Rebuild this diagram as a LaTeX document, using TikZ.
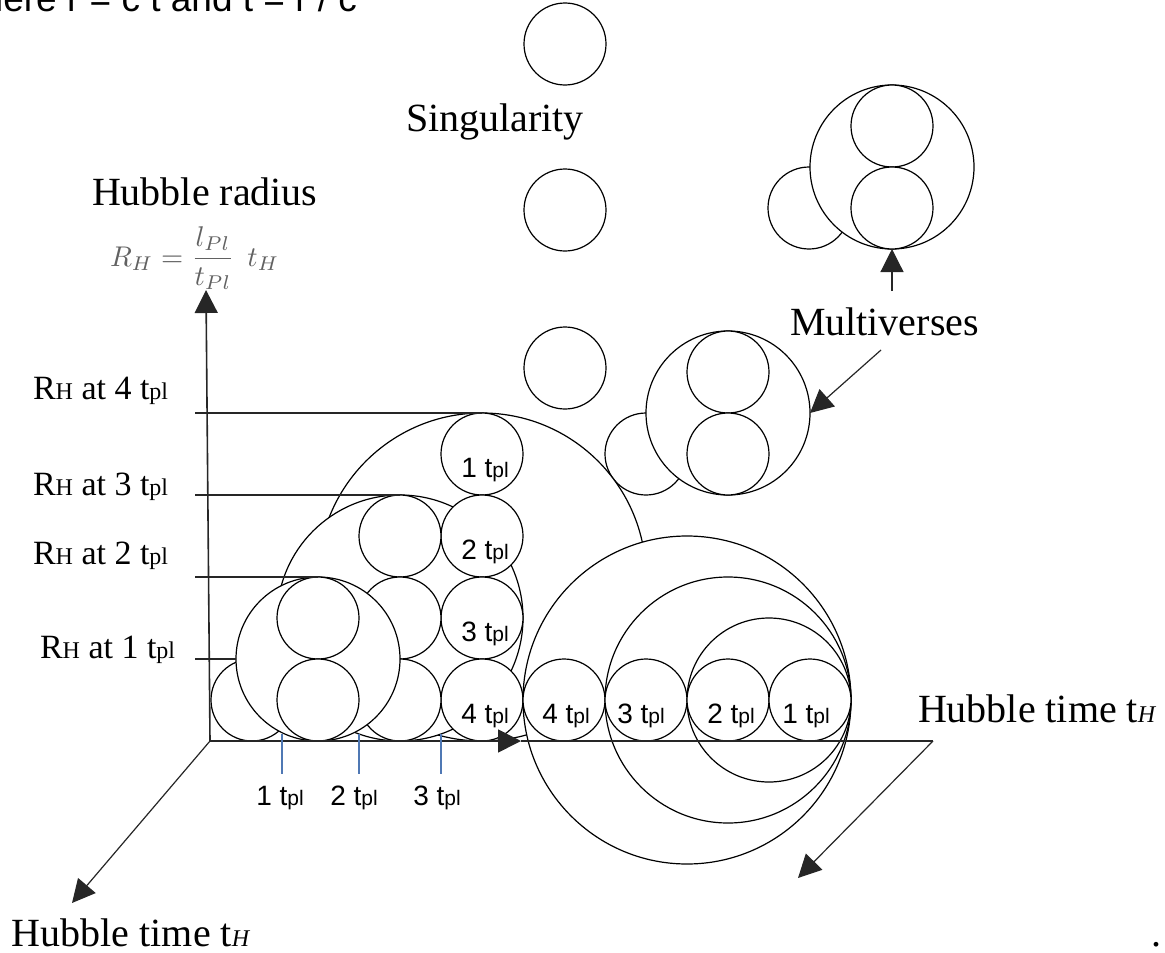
\documentclass[tikz,border=0pt]{standalone}
\usepackage[no-math]{fontspec}
\setmainfont{Liberation Serif}
\newfontfamily\sansf{Liberation Sans}
\usetikzlibrary{arrows.meta}
\definecolor{tickblue}{HTML}{4F78B4}
\newcommand\fs[1]{\fontsize{#1}{#1}\selectfont}
\newcommand\tpS{t{\fs{21}pl}}
\newcommand\tpR{t{\fs{24}pl}}
\newcommand\tH{t{\fs{24}\itshape H}}
\begin{document}
\begin{tikzpicture}[x=1pt,y=-1pt,
  every node/.style={inner sep=0pt,outer sep=0pt},
  circ/.style={circle,draw=black,line width=1.2pt,fill=white,minimum size=#1},
  circ/.default=82pt,
  ln/.style={line width=1.6pt,draw=black!85},
  arr/.style={line width=1.6pt,draw=black!85,-{Triangle[length=23pt,width=23pt]}},
  tarr/.style={arr,line width=1.2pt},
  serif/.style={font=\fs{40},anchor=base west},
  rlab/.style={font=\fs{34},anchor=base west},
  tlab/.style={font=\sansf\fs{28},anchor=base},
  tickln/.style={line width=1.3pt,draw=tickblue}
]
\useasboundingbox (0,0) rectangle (1165,953);

% top texts
\node[font=\sansf\fs{37},anchor=base east] (toptxt) at (357,12) {here r = c t and t = r / c};
\node[serif] (sing) at (406,131) {Singularity};
\node[serif] (hr) at (92,205) {Hubble radius};
\node[font=\normalsize,text=black!62,anchor=base west] (form) at (110,266) {\scalebox{2.85}{$\displaystyle R_H=\frac{l_{Pl}}{t_{Pl}}\;\,t_H$}};

% singularity circles
\node[circ] (sg1) at (565,44) {};
\node[circ] (sg2) at (565,210) {};
\node[circ] (sg3) at (565,368) {};

% multiverse cluster 1
\node[circ] (m1s) at (809,208) {};
\node[circ=164pt] (m1b) at (892,167) {};
\node[circ] (m1t) at (892,126) {};
\node[circ] (m1u) at (892,208) {};
% multiverse cluster 2
\node[circ] (m2s) at (646,454) {};
\node[circ=164pt] (m2b) at (728,413) {};
\node[circ] (m2t) at (728,372) {};
\node[circ] (m2u) at (728,454) {};

% left cluster
\node[circ=328pt] (b4) at (482,577) {};
\node[circ=246pt] (b3) at (400,618) {};
\node[circ] (k1) at (482,454) {};
\node[circ] (k2) at (482,536) {};
\node[circ] (k3) at (482,618) {};
\node[circ] (k4) at (482,700) {};
\node[circ] (j1) at (400,536) {};
\node[circ] (j2) at (400,618) {};
\node[circ] (j3) at (400,700) {};
\node[circ] (a1) at (252,700) {};
\node[circ=164pt] (b2) at (318,659) {};
\node[circ] (i1) at (318,618) {};
\node[circ] (i2) at (318,700) {};

% right cluster
\node[circ=328pt] (r4) at (687,700) {};
\node[circ=246pt] (r3) at (728,700) {};
\node[circ=164pt] (r2) at (769,700) {};
\node[circ] (q4) at (564,700) {};
\node[circ] (q3) at (646,700) {};
\node[circ] (q2) at (728,700) {};
\node[circ] (q1) at (810,700) {};

% labels in circles
\node[tlab] at (485,477) {1 \tpS};
\node[tlab] at (485,559) {2 \tpS};
\node[tlab] at (485,641) {3 \tpS};
\node[tlab] at (485,723) {4 \tpS};
\node[tlab] at (566,723) {4 \tpS};
\node[tlab] at (641,723) {3 \tpS};
\node[tlab] at (731,723) {2 \tpS};
\node[tlab] at (806,723) {1 \tpS};

% level lines
\coordinate (h4) at (195,413);
\coordinate (h3) at (195,495);
\coordinate (h2) at (195,577);
\coordinate (h1) at (195,659);
\draw[ln] (h4) -- (b4.north);
\draw[ln] (h3) -- (b3.north);
\draw[ln] (h2) -- (b2.north);
\draw[ln] (h1) -- (b2.west);

% axes
\coordinate (O) at (210,741);
\coordinate (Yt) at (206,290);
\coordinate (Xm) at (521,741);
\coordinate (Xe) at (933,741);
\coordinate (Zl) at (72,903);
\coordinate (Zr) at (798,878);
\draw[arr] (O) -- (Yt);
\draw[arr] (O) -- (Xm);
\draw[ln] (Xm) -- (Xe);
\draw[tarr] (Xe) -- (Zr);
\draw[tarr] (O) -- (Zl);

% blue ticks
\draw[tickln] (282,734) -- (282,774);
\draw[tickln] (359,734) -- (359,774);
\draw[tickln] (441,734) -- (441,774);
\node[tlab] at (280,805) {1 \tpS};
\node[tlab] at (354,805) {2 \tpS};
\node[tlab] at (437,805) {3 \tpS};

% multiverse arrows
\coordinate (mvA) at (881,350);
\coordinate (mvB) at (892,291);
\draw[tarr] (mvA) -- (m2b.east);
\draw[tarr] (mvB) -- (m1b.south);
\node[serif] (mv) at (790,335) {Multiverses};

% left labels
\node[rlab] at (33,399) {R{\fs{24}H} at 4 \tpR};
\node[rlab] at (33,495) {R{\fs{24}H} at 3 \tpR};
\node[rlab] at (33,564) {R{\fs{24}H} at 2 \tpR};
\node[rlab] at (40,658) {R{\fs{24}H} at 1 \tpR};

% Hubble time labels
\node[serif] (ht1) at (12,946) {Hubble time \tH};
\node[serif] (ht2) at (918,722) {Hubble time \tH};
\node[serif] (dot) at (1151,946) {.};
\end{tikzpicture}
\end{document}
